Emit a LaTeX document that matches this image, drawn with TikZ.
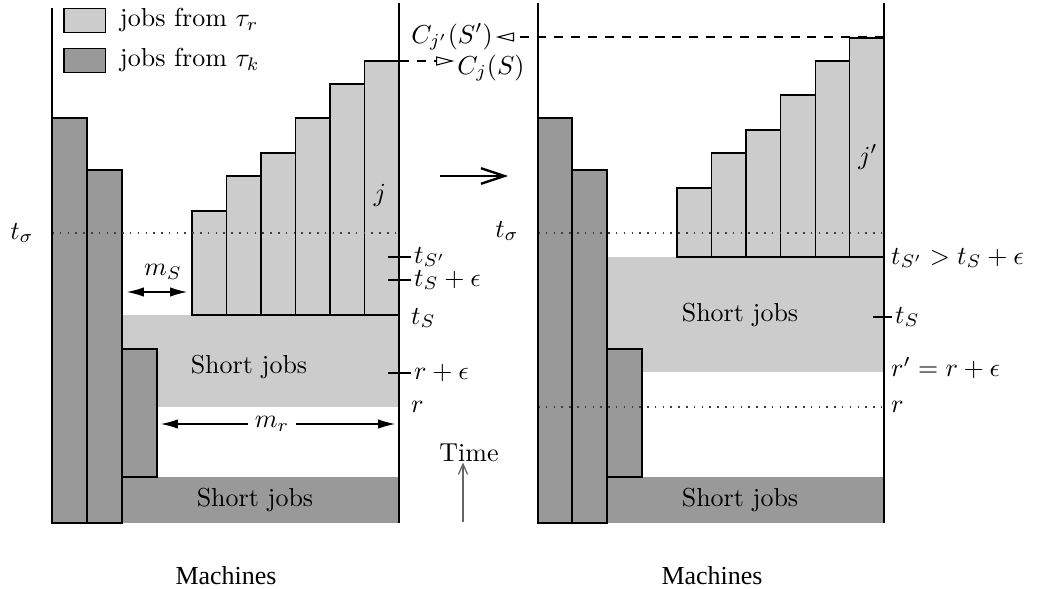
\documentclass[tikz,border=0pt]{standalone}
\usepackage{fontspec}
\newfontfamily\timesfont{Liberation Serif}
\usetikzlibrary{arrows.meta,positioning}
\definecolor{jobslight}{gray}{0.8}
\definecolor{jobsdark}{gray}{0.6}

\begin{document}
\begin{tikzpicture}[x=0.385pt, y=-0.385pt,
      jr/.style={draw, fill=jobslight, line width=0.4pt},
      jk/.style={draw, fill=jobsdark, line width=0.4pt},
      mline/.style={line width=1pt},
      tk/.style={line width=0.4pt},
      lbl/.style={anchor=west, inner sep=1pt},
      dots/.style={line width=0.5pt, black!75, dash pattern=on 0.6pt off 2.4pt},
      cdash/.style={dash pattern=on 3.5pt off 3pt, -{Triangle[open, length=7pt, width=3.5pt]}},
      dimarr/.style={{Latex[length=6.5pt, width=3.6pt]}-{Latex[length=6.5pt, width=3.6pt]}}]
    \useasboundingbox (0,0) rectangle (1039,588);

    % left panel: schedule S
    \fill[jobslight] (122,315) rectangle (399,407);
    \fill[jobsdark] (122,477) rectangle (399,523);
    \draw[jk] (52,118) rectangle (87,523);
    \draw[jk] (87,170) rectangle (122,523);
    \draw[jk] (122,349) rectangle (157,477);
    \foreach \t [count=\i from 0] in {211,176,153,118,84,61}
      \draw[jr] ({192+34.5*\i},315) rectangle ({226.5+34.5*\i},\t);
    \draw[dots] (52,233) -- (399,233);
    \draw[mline] (52,8) -- (52,523);
    \draw[mline] (399,3) -- (399,523);

    % right panel: schedule S'
    \fill[jobslight] (607,257) rectangle (884,372);
    \fill[jobsdark] (607,477) rectangle (884,523);
    \draw[jk] (538,118) rectangle (572,523);
    \draw[jk] (572,170) rectangle (607,523);
    \draw[jk] (607,349) rectangle (642,477);
    \foreach \t [count=\i from 0] in {188,153,130,95,61,38}
      \draw[jr] ({677+34.5*\i},257) rectangle ({711.5+34.5*\i},\t);
    \draw[dots] (538,233) -- (884,233);
    \draw[dots] (538,407) -- (884,407);
    \draw[mline] (538,3) -- (538,523);
    \draw[mline] (884,3) -- (884,523);

    % legend
    \node[jr, minimum width=15.8pt, minimum height=8.9pt, inner sep=0pt] (legr) at (84.5,20.5) {};
    \node[jk, minimum width=15.8pt, minimum height=8.9pt, inner sep=0pt] (legk) at (84.5,60.5) {};
    \node[right=2pt of legr] (legrt) {jobs from $\tau_r$};
    \node[right=2pt of legk] (legkt) {jobs from $\tau_k$};

    % texts in the panels
    \node (sjl) at (249,367) {Short jobs};
    \node (sjld) at (255,500) {Short jobs};
    \node (sjr) at (740,315) {Short jobs};
    \node (sjrd) at (740,500) {Short jobs};
    \node (jl) at (380,195) {$j$};
    \node (jr) at (868,157) {$j'$};
    \node (tsigl) at (22,233) {$t_\sigma$};
    \node (tsigr) at (507,231) {$t_\sigma$};

    % widths
    \node (ms) at (163,272) {$m_S$};
    \coordinate (msl) at (127,292);
    \coordinate (msr) at (187,292);
    \draw[dimarr] (msl) -- (msr);
    \node[fill=white, inner sep=2.5pt] (mr) at (272,424) {$m_r$};
    \coordinate (mrl) at (161,424);
    \coordinate (mrr) at (395,424);
    \draw[-{Latex[length=6.5pt, width=3.6pt]}] (mr.west) -- (mrl);
    \draw[-{Latex[length=6.5pt, width=3.6pt]}] (mr.east) -- (mrr);

    % time marks, left
    \node[lbl] (tspl) at (411,257) {$t_{S'}$};
    \node[lbl] (tsel) at (411,280) {$t_S + \epsilon$};
    \node[lbl] (tsl) at (408,318) {$t_S$};
    \node[lbl] (rel) at (411,373) {$r + \epsilon$};
    \node[lbl] (rl) at (408,407) {$r$};
    \draw[tk] (388,257) -- (tspl.west);
    \draw[tk] (388,280) -- (tsel.west);
    \draw[tk] (388,373) -- (rel.west);

    % time marks, right
    \node[lbl] (tspr) at (888,258) {$t_{S'} > t_S + \epsilon$};
    \node[lbl] (tsr) at (892,317) {$t_S$};
    \node[lbl] (rpr) at (888,368) {$r' = r + \epsilon$};
    \node[lbl] (rr) at (888,407) {$r$};
    \draw[tk] (873,317) -- (tsr.west);

    % completion times
    \node[inner sep=1pt] (cj) at (491,68) {$C_j(S)$};
    \node[inner sep=1pt] (cjp) at (452,37) {$C_{j'}(S')$};
    \coordinate (cjtop) at (400,61);
    \coordinate (cjptop) at (884,37);
    \draw[cdash] (cjtop) -- (cjtop -| cj.west);
    \draw[cdash] (cjptop) -- (cjptop -| cjp.east);

    % from S to S'
    \coordinate (froms) at (440,176);
    \coordinate (tos) at (508,176);
    \draw[line width=0.9pt, -{Straight Barb[length=9pt, width=6pt]}] (froms) -- (tos);

    \node[inner sep=0pt] (time) at (469,453) {Time};
    \coordinate (tbase) at (463,522);
    \draw[black!60, line width=0.5pt, -{Straight Barb[length=4pt, width=3.5pt]}] (tbase) -- (tbase |- time.south);

    \node[inner sep=0pt] (machl) at (226,576) {\timesfont Machines};
    \node[inner sep=0pt] (machr) at (712,576) {\timesfont Machines};
  \end{tikzpicture}
\end{document}
